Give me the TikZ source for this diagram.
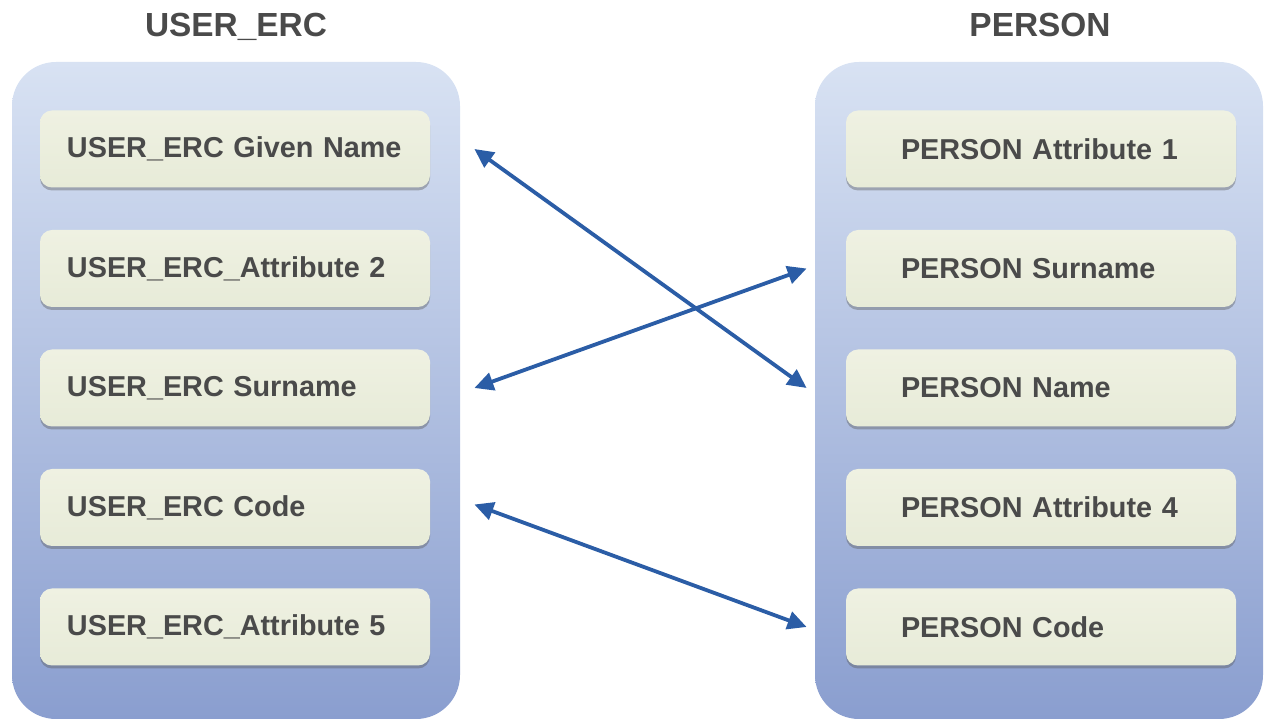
\documentclass[tikz,border=0pt]{standalone}
\usepackage{fontspec}
\setmainfont{Liberation Sans}
\usetikzlibrary{positioning, arrows.meta, shadows}

\definecolor{paneltop}{HTML}{D8E2F3}
\definecolor{panelbot}{HTML}{8A9ECF}
\definecolor{boxtop}{HTML}{EFF1E2}
\definecolor{boxbot}{HTML}{E7EBD8}
\definecolor{txtgray}{HTML}{4A4A4A}
\definecolor{linkblue}{HTML}{2B5DA6}

\begin{document}
\begin{tikzpicture}[x=0.5pt, y=-0.5pt,
    panel/.style={rounded corners=22pt, top color=paneltop, bottom color=panelbot,
        minimum width=224pt, minimum height=328.5pt, inner sep=0pt},
    field/.style={rounded corners=6pt, top color=boxtop, bottom color=boxbot,
        minimum height=38.5pt, align=left, text=txtgray,
        font=\bfseries\fontsize{14.4}{16}\selectfont,
        drop shadow={shadow xshift=0pt, shadow yshift=-1.5pt, opacity=0.4, fill=black!65}},
    lfield/.style={field, text width=168pt, inner xsep=13.5pt},
    rfield/.style={field, text width=140pt, inner xsep=27.5pt},
    title/.style={font=\bfseries\fontsize{16.7}{19}\selectfont, text=txtgray},
    link/.style={{Triangle[length=9.5pt, width=9pt]}-{Triangle[length=9.5pt, width=9pt]},
        line width=1.9pt, linkblue}
]
    \useasboundingbox (0,0) rectangle (1266,721);

    % Titles
    \node[title, anchor=base] (ltitle) at (236,37) {USER\_ERC};
    \node[title, anchor=base] (rtitle) at (1040,37) {PERSON};

    % Panels
    \node[panel] (lpanel) at (236,390.5) {};
    \node[panel] (rpanel) at (1039,390.5) {};

    % USER_ERC fields
    \node[lfield] (ug) at (235,149) {USER\_ERC Given Name};
    \node[lfield] (u2) at (235,268.5) {USER\_ERC\_Attribute 2};
    \node[lfield] (us) at (235,388) {USER\_ERC Surname};
    \node[lfield] (uc) at (235,507.5) {USER\_ERC Code};
    \node[lfield] (u5) at (235,627) {USER\_ERC\_Attribute 5};

    % PERSON fields
    \node[rfield] (pa1) at (1041,149) {PERSON Attribute 1};
    \node[rfield] (ps) at (1041,268.5) {PERSON Surname};
    \node[rfield] (pn) at (1041,388) {PERSON Name};
    \node[rfield] (pa4) at (1041,507.5) {PERSON Attribute 4};
    \node[rfield] (pc) at (1041,627) {PERSON Code};

    % Links
    \draw[link] ([xshift=22pt]ug.east) -- ([xshift=-19.5pt]pn.west);
    \draw[link] ([xshift=22pt]us.east) -- ([xshift=-19.5pt]ps.west);
    \draw[link] ([xshift=22pt, yshift=1.5pt]uc.east) -- ([xshift=-19.5pt]pc.west);

\end{tikzpicture}
\end{document}
